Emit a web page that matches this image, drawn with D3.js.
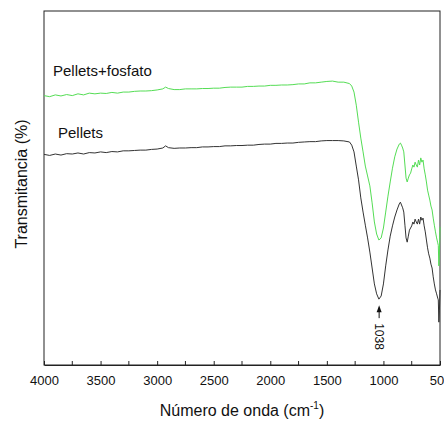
<!DOCTYPE html>
<html>
<head>
<meta charset="utf-8">
<script src="https://cdn.jsdelivr.net/npm/d3@7"></script>
<style>
  body { margin: 0; background: #fff; }
  svg { display: block; font-family: 'Liberation Sans', Arial, sans-serif; }
</style>
</head>
<body>
<div id="chart"></div>
<script>
// FTIR spectra

const wavenumber = [
  4000, 3950, 3900, 3850, 3800, 3750, 3700, 3650, 3600, 3550, 3500, 3450, 3400, 3350,
  3300, 3250, 3200, 3150, 3100, 3050, 3000, 2950, 2925, 2900, 2850, 2800, 2750, 2700,
  2650, 2600, 2550, 2500, 2450, 2400, 2350, 2300, 2250, 2200, 2150, 2100, 2050, 2000,
  1950, 1900, 1850, 1800, 1750, 1700, 1650, 1600, 1550, 1500, 1450, 1400, 1350, 1300,
  1280, 1260, 1240, 1220, 1200, 1180, 1160, 1140, 1120, 1100, 1080, 1060, 1040, 1020,
  1000, 980, 960, 940, 920, 900, 880,
  860, 850, 840, 830, 820, 810, 800, 790, 780, 770, 760, 750, 740, 730, 720, 710, 700,
  690, 680, 670, 660, 650, 640, 630, 620, 610, 600, 590, 580, 570, 560, 550, 540, 530,
  520, 515, 510, 505, 500
];

const pelletsFosfato = [
  76.1, 75.8, 76.3, 76.0, 76.4, 76.1, 76.6, 76.3, 76.8, 76.6, 76.8, 76.7, 77.0, 76.8,
  77.1, 77.1, 77.3, 77.4, 77.4, 77.5, 77.7, 78.0, 78.5, 78.1, 77.8, 77.8, 78.0, 78.0,
  78.0, 78.1, 78.1, 78.2, 78.2, 78.4, 78.5, 78.5, 78.5, 78.7, 78.7, 78.8, 78.8, 79.0,
  79.0, 79.1, 79.1, 79.2, 79.4, 79.4, 79.7, 79.7, 79.9, 80.1, 80.2, 79.9, 79.9, 79.5,
  78.8, 77.1, 73.4, 68.6, 64.1, 60.2, 56.2, 53.4, 50.6, 45.8, 40.4, 37.0, 35.3, 35.9,
  38.7, 43.2, 47.7, 51.7, 55.6, 58.8, 61.0,
  62.4, 62.7, 62.1, 61.3, 60.2, 56.5, 52.8, 51.7, 52.8, 53.7, 54.2, 55.4, 56.5, 55.9,
  57.3, 56.5, 55.9, 57.9, 56.5, 58.5, 57.3, 57.9, 55.4, 53.7, 51.7, 49.4, 48.0, 46.6,
  44.9, 43.8, 41.5, 39.5, 37.6, 35.9, 34.5, 33.8, 28.0, 32.5, 39.0
];

const pellets = [
  59.5, 59.2, 59.6, 59.3, 59.7, 59.6, 59.9, 59.6, 60.0, 59.9, 60.2, 60.0, 60.3, 60.2,
  60.5, 60.5, 60.6, 60.7, 60.7, 60.9, 61.0, 61.3, 61.9, 61.4, 61.2, 61.3, 61.3, 61.4,
  61.4, 61.6, 61.6, 61.7, 61.7, 61.9, 61.9, 62.0, 62.0, 62.1, 62.1, 62.3, 62.4, 62.4,
  62.6, 62.6, 62.7, 62.7, 62.9, 63.0, 63.1, 63.1, 63.3, 63.4, 63.4, 63.4, 63.3, 63.0,
  62.1, 60.2, 56.2, 52.3, 47.2, 43.2, 39.5, 35.9, 31.9, 27.4, 22.9, 20.1, 18.6, 19.5,
  22.9, 28.0, 32.5, 36.4, 39.3, 41.8, 43.8,
  45.5, 46.0, 45.2, 44.4, 43.2, 39.5, 35.9, 34.7, 36.4, 38.1, 38.7, 39.3, 40.4, 39.8,
  41.2, 40.4, 39.8, 41.2, 39.8, 41.8, 40.9, 41.5, 39.3, 37.6, 35.3, 33.1, 31.4, 30.2,
  28.5, 27.4, 24.9, 22.9, 21.2, 20.1, 18.9, 18.4, 12.1, 15.5, 21.2
];

const xTicks = [4000, 3500, 3000, 2500, 2000, 1500, 1000, 500];
const xMinorTicks = [3750, 3250, 2750, 2250, 1750, 1250, 750];
const peakLabel = 1038;

const width = 444, height = 423;
const margin = { top: 11, right: 4, bottom: 58, left: 44 };
const innerW = width - margin.left - margin.right;
const innerH = height - margin.top - margin.bottom;

const svg = d3.select('#chart')
  .append('svg')
  .attr('width', width)
  .attr('height', height);

const x = d3.scaleLinear().domain([4000, 500]).range([margin.left, margin.left + innerW]);
const y = d3.scaleLinear().domain([0, 100]).range([margin.top + innerH, margin.top]);

// Frame
svg.append('rect')
  .attr('x', margin.left)
  .attr('y', margin.top)
  .attr('width', innerW)
  .attr('height', innerH)
  .attr('fill', 'none')
  .attr('stroke', '#222')
  .attr('stroke-width', 1);

// Bottom axis, ticks pointing inward
const xAxis = svg.append('g')
  .attr('transform', `translate(0, ${margin.top + innerH})`)
  .call(d3.axisBottom(x).tickValues(xTicks).tickSizeInner(-4).tickSizeOuter(0).tickPadding(11)
    .tickFormat(d3.format('d')));
xAxis.select('.domain').attr('stroke', '#222');
xAxis.selectAll('.tick line').attr('stroke', '#222');
xAxis.selectAll('text')
  .attr('font-size', 13)
  .attr('fill', '#111')
  .attr('font-family', "'Liberation Sans', Arial, sans-serif");

svg.append('g')
  .selectAll('line')
  .data(xMinorTicks)
  .join('line')
  .attr('x1', d => x(d))
  .attr('x2', d => x(d))
  .attr('y1', margin.top + innerH)
  .attr('y2', margin.top + innerH - 4)
  .attr('stroke', '#222');

// Spectra
const line = d3.line()
  .x((d, i) => x(wavenumber[i]))
  .y(d => y(d));

svg.append('path')
  .datum(pelletsFosfato)
  .attr('d', line)
  .attr('fill', 'none')
  .attr('stroke', '#55dd55')
  .attr('stroke-width', 1);

svg.append('path')
  .datum(pellets)
  .attr('d', line)
  .attr('fill', 'none')
  .attr('stroke', '#333')
  .attr('stroke-width', 1);

// Curve labels
svg.append('text')
  .attr('x', 53)
  .attr('y', 76)
  .attr('font-size', 15)
  .attr('fill', '#111')
  .text('Pellets+fosfato');

svg.append('text')
  .attr('x', 58)
  .attr('y', 138)
  .attr('font-size', 15)
  .attr('fill', '#111')
  .text('Pellets');

// Peak marker
const px = x(peakLabel);
const minIdx = wavenumber.indexOf(1040);
const tipY = y(pellets[minIdx]) + 6;
svg.append('line')
  .attr('x1', px).attr('x2', px)
  .attr('y1', tipY + 5).attr('y2', tipY + 13)
  .attr('stroke', '#111')
  .attr('stroke-width', 1);
svg.append('path')
  .attr('d', `M${px},${tipY} L${px - 2.5},${tipY + 7} L${px + 2.5},${tipY + 7} Z`)
  .attr('fill', '#111');
svg.append('text')
  .attr('transform', `translate(${px - 4}, ${tipY + 18}) rotate(90)`)
  .attr('font-size', 12)
  .attr('fill', '#111')
  .text(peakLabel);

// Axis titles
const xTitle = svg.append('text')
  .attr('x', 242)
  .attr('y', 416)
  .attr('text-anchor', 'middle')
  .attr('font-size', 16)
  .attr('fill', '#111');
xTitle.append('tspan').text('Número de onda (cm');
xTitle.append('tspan').attr('font-size', 10).attr('dy', -7).text('-1');
xTitle.append('tspan').attr('dy', 7).text(')');

svg.append('text')
  .attr('transform', `translate(27, 184) rotate(-90)`)
  .attr('text-anchor', 'middle')
  .attr('font-size', 16)
  .attr('fill', '#111')
  .text('Transmitancia (%)');
</script>
</body>
</html>
